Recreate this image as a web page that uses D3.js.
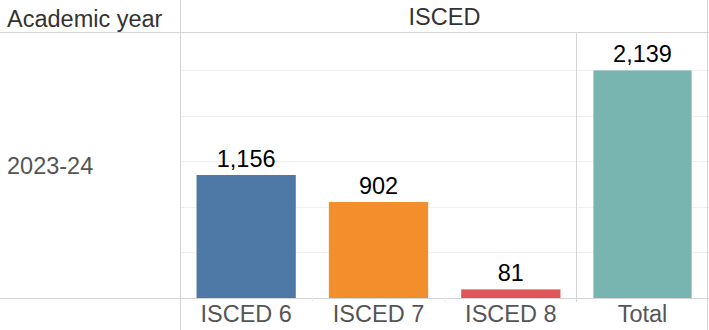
<!DOCTYPE html>
<html>
<head>
<meta charset="utf-8">
<script src="https://cdn.jsdelivr.net/npm/d3@7"></script>
<style>
  html, body { margin: 0; padding: 0; background: #fff; }
  svg { display: block; font-family: "Liberation Sans", Arial, sans-serif; }
</style>
</head>
<body>
<svg id="chart" width="709" height="330"></svg>
<script>
// Enrolments by ISCED level, academic year 2023-24
const rowHeader = "Academic year";
const colHeader = "ISCED";
const years = ["2023-24"];
const categories = ["ISCED 6", "ISCED 7", "ISCED 8"];
const values = [1156, 902, 81];
const totalLabel = "Total";
const totalValue = 2139;
const gridValues = [428, 856, 1284, 1712, 2140];
const colors = ["#4e79a7", "#f28e2b", "#e15759"];
const totalColor = "#79b5b0";

const W = 709, H = 330;
const headerH = 32;
const rowHeaderW = 180;
const levelsW = 397;
const axisY = 298;
const fontSize = 23.5;

const svg = d3.select("#chart");
const fmt = d3.format(",");

// Horizontal layout: three level columns, then a separate Total column
const x = d3.scaleBand()
  .domain(categories)
  .range([rowHeaderW, rowHeaderW + levelsW])
  .paddingInner(0.25).paddingOuter(0.125);
const xTotal = d3.scaleBand()
  .domain([totalLabel])
  .range([rowHeaderW + levelsW, W - 1])
  .paddingInner(0.25).paddingOuter(0.125);

const y = d3.scaleLinear().domain([0, 2500]).range([axisY, headerH]);

// Gridlines
svg.append("g").selectAll("line").data(gridValues).join("line")
  .attr("x1", rowHeaderW).attr("x2", W)
  .attr("y1", d => Math.round(y(d)) + 0.5).attr("y2", d => Math.round(y(d)) + 0.5)
  .attr("stroke", "#efefef").attr("stroke-width", 1);

// Bars
svg.append("g").selectAll("rect").data(categories).join("rect")
  .attr("x", d => x(d)).attr("width", x.bandwidth())
  .attr("y", (d, i) => y(values[i]))
  .attr("height", (d, i) => axisY - y(values[i]))
  .attr("fill", (d, i) => colors[i]);

svg.append("rect")
  .attr("x", xTotal(totalLabel)).attr("width", xTotal.bandwidth())
  .attr("y", y(totalValue)).attr("height", axisY - y(totalValue))
  .attr("fill", totalColor);

// Value labels
const labelData = categories.map((c, i) => ({ cx: x(c) + x.bandwidth() / 2, v: values[i] }))
  .concat([{ cx: xTotal(totalLabel) + xTotal.bandwidth() / 2, v: totalValue }]);
svg.append("g").selectAll("text").data(labelData).join("text")
  .attr("x", d => d.cx).attr("y", d => y(d.v) - 8)
  .attr("text-anchor", "middle")
  .attr("font-size", fontSize).attr("fill", "#000")
  .text(d => fmt(d.v));

// Divider lines
const div = "#d4d4d4";
svg.append("line").attr("x1", 0).attr("x2", W).attr("y1", headerH + 0.5).attr("y2", headerH + 0.5).attr("stroke", div);
svg.append("line").attr("x1", 0).attr("x2", W).attr("y1", axisY + 0.5).attr("y2", axisY + 0.5).attr("stroke", div);
svg.append("line").attr("x1", rowHeaderW + 0.5).attr("x2", rowHeaderW + 0.5).attr("y1", 0).attr("y2", H).attr("stroke", div);
svg.append("line").attr("x1", W - 1.5).attr("x2", W - 1.5).attr("y1", 0).attr("y2", H).attr("stroke", div);
svg.append("line").attr("x1", rowHeaderW + levelsW - 0.5).attr("x2", rowHeaderW + levelsW - 0.5)
  .attr("y1", headerH).attr("y2", axisY + 4).attr("stroke", div);

// Small column-boundary ticks under the axis
const step = x.step();
svg.append("g").selectAll("line").data(categories.slice(1)).join("line")
  .attr("x1", d => Math.round(x(d) - step * 0.125) + 0.5)
  .attr("x2", d => Math.round(x(d) - step * 0.125) + 0.5)
  .attr("y1", axisY).attr("y2", axisY + 4)
  .attr("stroke", "#ececec");

// Axis labels
svg.append("g").selectAll("text").data(categories.concat([totalLabel])).join("text")
  .attr("x", d => d === totalLabel ? xTotal(d) + xTotal.bandwidth() / 2 : x(d) + x.bandwidth() / 2)
  .attr("y", 322)
  .attr("text-anchor", "middle")
  .attr("font-size", fontSize).attr("fill", "#555")
  .text(d => d);

// Headers
svg.append("text").attr("x", 7).attr("y", 27)
  .attr("font-size", fontSize).attr("fill", "#333").text(rowHeader);
svg.append("text").attr("x", (rowHeaderW + W) / 2).attr("y", 24.5)
  .attr("text-anchor", "middle")
  .attr("font-size", fontSize).attr("fill", "#333").text(colHeader);

// Row label
svg.append("g").selectAll("text").data(years).join("text")
  .attr("x", 7).attr("y", (headerH + axisY) / 2 + 8.5)
  .attr("font-size", fontSize).attr("fill", "#555")
  .text(d => d);
</script>
</body>
</html>
